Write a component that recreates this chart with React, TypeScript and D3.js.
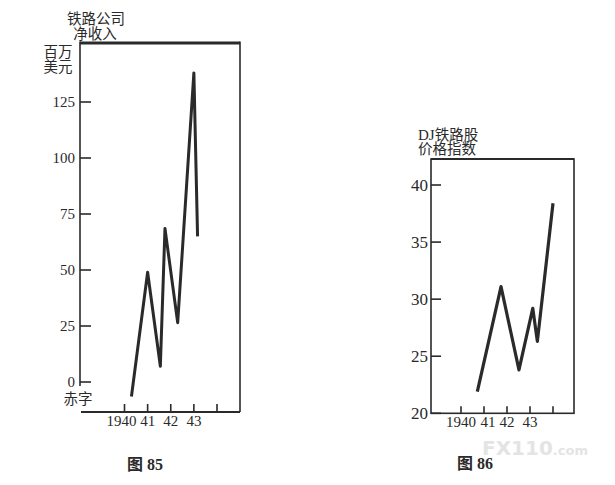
import * as d3 from 'd3';

// Fig. 85: railroad net income, millions of dollars
const incomeYears = [1940.3, 1941.0, 1941.55, 1941.75, 1942.3, 1943.0, 1943.16];
const incomeValues = [-6.5, 49, 7, 68.5, 26.5, 138, 65];
const incomeTicks = [0, 25, 50, 75, 100, 125];

// Fig. 86: DJ railroad stock price index
const indexYears = [1940.71, 1941.74, 1942.52, 1943.12, 1943.32, 1944.0];
const indexValues = [21.9, 31.1, 23.8, 29.2, 26.3, 38.4];
const indexTicks = [20, 25, 30, 35, 40];

const yearTicks = [1940, 1941, 1942, 1943, 1944];
const yearLabels = ['1940', '41', '42', '43'];

const INK = '#2a2a2a';
const SERIF = '"Liberation Serif", "DejaVu Serif", serif';
const CJK = '"Noto Sans CJK SC", sans-serif';

type Pt = { x: number; y: number };

function zip(xs: number[], ys: number[]): Pt[] {
  return xs.map((x, i) => ({ x, y: ys[i] }));
}

export default function App() {
  // left chart
  const x1 = d3.scaleLinear().domain([1940, 1944]).range([124.5, 217]);
  const y1 = d3.scaleLinear().domain([0, 125]).range([382, 102]);
  const L1 = 80, R1 = 240, T1 = 43, B1 = 412;

  // right chart
  const x2 = d3.scaleLinear().domain([1940, 1944]).range([461, 553]);
  const y2 = d3.scaleLinear().domain([20, 40]).range([413.3, 185]);
  const L2 = 431, R2 = 574, T2 = 159, B2 = 413.3;

  const line1 = d3.line<Pt>().x((d) => x1(d.x)).y((d) => y1(d.y));
  const line2 = d3.line<Pt>().x((d) => x2(d.x)).y((d) => y2(d.y));

  return (
    <div style={{ position: 'absolute', left: 0, top: 0 }}>
      <svg width={615} height={485} viewBox="0 0 615 485" style={{ display: 'block', background: '#fff' }}>
        {/* ---------- Fig. 85 ---------- */}
        <text textAnchor="middle" fontFamily={CJK} fontSize={14.5} fill={INK}>
          <tspan x={96} y={24}>铁路公司</tspan>
          <tspan x={95} y={38.5}>净收入</tspan>
        </text>
        <text textAnchor="middle" fontFamily={CJK} fontSize={14.5} fill={INK}>
          <tspan x={58} y={57}>百万</tspan>
          <tspan x={58} y={72}>美元</tspan>
        </text>

        <line x1={L1} x2={R1} y1={T1} y2={T1} stroke={INK} strokeWidth={3} />
        <line x1={L1} x2={L1} y1={T1 - 1.5} y2={386} stroke={INK} strokeWidth={1.6} />
        <line x1={R1} x2={R1} y1={T1 - 1.5} y2={B1} stroke={INK} strokeWidth={1.6} />
        <line x1={L1 + 1} x2={R1} y1={B1} y2={B1} stroke={INK} strokeWidth={1.8} />

        {incomeTicks.map((t) => (
          <g key={t}>
            <line x1={L1} x2={L1 + 11} y1={y1(t)} y2={y1(t)} stroke={INK} strokeWidth={1.6} />
            <text x={75} y={y1(t)} dy="0.35em" textAnchor="end" fontFamily={SERIF} fontSize={15} fill={INK}>{t}</text>
          </g>
        ))}
        <text x={78} y={404} textAnchor="middle" fontFamily={CJK} fontSize={14.5} fill={INK}>赤字</text>

        {yearTicks.map((t) => (
          <line key={t} x1={x1(t)} x2={x1(t)} y1={B1} y2={B1 - 8} stroke={INK} strokeWidth={1.6} />
        ))}
        {yearLabels.map((s, i) => (
          <text key={s} x={x1(yearTicks[i]) - (i === 0 ? 3 : 0)} y={426} textAnchor="middle" fontFamily={SERIF} fontSize={15} fill={INK}>{s}</text>
        ))}

        <path d={line1(zip(incomeYears, incomeValues)) ?? ''} fill="none" stroke={INK} strokeWidth={3} strokeLinejoin="round" strokeLinecap="butt" />

        <text x={145} y={470} textAnchor="middle" fontFamily={SERIF} fontSize={16} fontWeight="bold" fill={INK}>
          <tspan fontFamily={CJK}>图</tspan> 85
        </text>

        {/* ---------- Fig. 86 ---------- */}
        <text fontFamily={CJK} fontSize={14.5} fill={INK}>
          <tspan x={418} y={139.5}>
            <tspan fontFamily={SERIF} fontSize={15}>DJ</tspan>铁路股
          </tspan>
          <tspan x={418} y={154}>价格指数</tspan>
        </text>

        <rect x={L2} y={T2} width={R2 - L2} height={B2 - T2} fill="none" stroke={INK} strokeWidth={1.6} />
        <line x1={L2} x2={R2} y1={T2} y2={T2} stroke={INK} strokeWidth={2.2} />

        {indexTicks.map((t) => (
          <g key={t}>
            <line x1={L2} x2={L2 + 10} y1={y2(t)} y2={y2(t)} stroke={INK} strokeWidth={1.6} />
            <text x={428} y={y2(t)} dy="0.35em" textAnchor="end" fontFamily={SERIF} fontSize={17} fill={INK}>{t}</text>
          </g>
        ))}

        {yearTicks.map((t) => (
          <line key={t} x1={x2(t)} x2={x2(t)} y1={B2} y2={B2 - 7} stroke={INK} strokeWidth={1.6} />
        ))}
        {yearLabels.map((s, i) => (
          <text key={s} x={x2(yearTicks[i]) + (i === 1 ? 4 : 0)} y={427} textAnchor="middle" fontFamily={SERIF} fontSize={15} fill={INK}>{s}</text>
        ))}

        <path d={line2(zip(indexYears, indexValues)) ?? ''} fill="none" stroke={INK} strokeWidth={3.2} strokeLinejoin="round" strokeLinecap="butt" />

        <text x={475} y={469} textAnchor="middle" fontFamily={SERIF} fontSize={16} fontWeight="bold" fill={INK}>
          <tspan fontFamily={CJK}>图</tspan> 86
        </text>

        {/* watermark */}
        <text x={535} y={455} textAnchor="middle" fontFamily='"DejaVu Sans", sans-serif' fontSize={20} fontWeight="bold" fill="#e4e4e4">
          FX110<tspan fontSize={13}>.com</tspan>
        </text>
      </svg>
    </div>
  );
}
